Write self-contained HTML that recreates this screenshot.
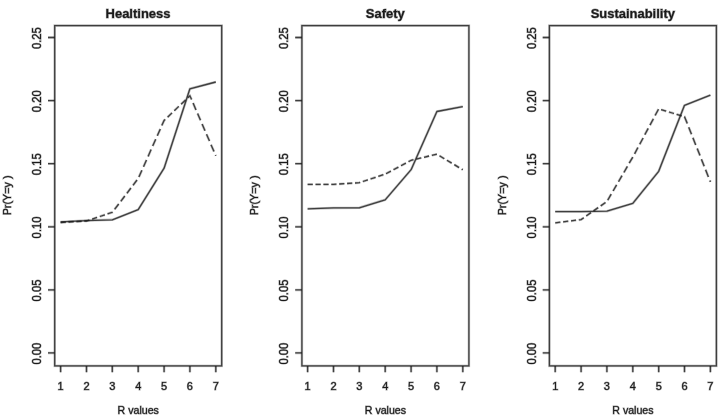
<!DOCTYPE html>
<html lang="en"><head><meta charset="utf-8"><title>Predicted probabilities</title>
<style>html,body{margin:0;padding:0;background:#fff}body{width:721px;height:417px;overflow:hidden}</style>
</head><body>
<svg width="721" height="417" viewBox="0 0 721 417" style="display:block">
<rect width="721" height="417" fill="#fff"/>
<g>
<g font-family="'Liberation Sans', Arial, sans-serif" fill="#1a1a1a" stroke="#1a1a1a" stroke-opacity="0.45" stroke-width="1.0">
<text transform="translate(138.0,18.3) scale(0.955,1)" font-size="13.6" font-weight="bold" text-anchor="middle">Healtiness</text>
<text transform="translate(138.2,414.1) scale(0.915,1)" font-size="11.6" text-anchor="middle">R values</text>
<text transform="translate(10.9,195.4) rotate(-90)" font-size="10.8" text-anchor="middle">Pr(Y=y )</text>
<text transform="translate(41.1,353.6) rotate(-90) scale(0.95,1)" font-size="11.9" text-anchor="middle">0.00</text>
<text transform="translate(41.1,290.5) rotate(-90) scale(0.95,1)" font-size="11.9" text-anchor="middle">0.05</text>
<text transform="translate(41.1,227.4) rotate(-90) scale(0.95,1)" font-size="11.9" text-anchor="middle">0.10</text>
<text transform="translate(41.1,164.3) rotate(-90) scale(0.95,1)" font-size="11.9" text-anchor="middle">0.15</text>
<text transform="translate(41.1,101.2) rotate(-90) scale(0.95,1)" font-size="11.9" text-anchor="middle">0.20</text>
<text transform="translate(41.1,38.1) rotate(-90) scale(0.95,1)" font-size="11.9" text-anchor="middle">0.25</text>
<text x="60.6" y="389.5" font-size="11" text-anchor="middle">1</text>
<text x="86.5" y="389.5" font-size="11" text-anchor="middle">2</text>
<text x="112.3" y="389.5" font-size="11" text-anchor="middle">3</text>
<text x="138.2" y="389.5" font-size="11" text-anchor="middle">4</text>
<text x="164.1" y="389.5" font-size="11" text-anchor="middle">5</text>
<text x="189.9" y="389.5" font-size="11" text-anchor="middle">6</text>
<text x="215.8" y="389.5" font-size="11" text-anchor="middle">7</text>
<text transform="translate(385.3,18.3) scale(0.955,1)" font-size="13.6" font-weight="bold" text-anchor="middle">Safety</text>
<text transform="translate(385.4,414.1) scale(0.915,1)" font-size="11.6" text-anchor="middle">R values</text>
<text transform="translate(258.1,195.4) rotate(-90)" font-size="10.8" text-anchor="middle">Pr(Y=y )</text>
<text transform="translate(288.3,353.6) rotate(-90) scale(0.95,1)" font-size="11.9" text-anchor="middle">0.00</text>
<text transform="translate(288.3,290.5) rotate(-90) scale(0.95,1)" font-size="11.9" text-anchor="middle">0.05</text>
<text transform="translate(288.3,227.4) rotate(-90) scale(0.95,1)" font-size="11.9" text-anchor="middle">0.10</text>
<text transform="translate(288.3,164.3) rotate(-90) scale(0.95,1)" font-size="11.9" text-anchor="middle">0.15</text>
<text transform="translate(288.3,101.2) rotate(-90) scale(0.95,1)" font-size="11.9" text-anchor="middle">0.20</text>
<text transform="translate(288.3,38.1) rotate(-90) scale(0.95,1)" font-size="11.9" text-anchor="middle">0.25</text>
<text x="307.6" y="389.5" font-size="11" text-anchor="middle">1</text>
<text x="333.5" y="389.5" font-size="11" text-anchor="middle">2</text>
<text x="359.3" y="389.5" font-size="11" text-anchor="middle">3</text>
<text x="385.2" y="389.5" font-size="11" text-anchor="middle">4</text>
<text x="411.1" y="389.5" font-size="11" text-anchor="middle">5</text>
<text x="436.9" y="389.5" font-size="11" text-anchor="middle">6</text>
<text x="462.8" y="389.5" font-size="11" text-anchor="middle">7</text>
<text transform="translate(632.8,18.3) scale(0.955,1)" font-size="13.6" font-weight="bold" text-anchor="middle">Sustainability</text>
<text transform="translate(632.9,414.1) scale(0.915,1)" font-size="11.6" text-anchor="middle">R values</text>
<text transform="translate(505.6,195.4) rotate(-90)" font-size="10.8" text-anchor="middle">Pr(Y=y )</text>
<text transform="translate(535.8,353.6) rotate(-90) scale(0.95,1)" font-size="11.9" text-anchor="middle">0.00</text>
<text transform="translate(535.8,290.5) rotate(-90) scale(0.95,1)" font-size="11.9" text-anchor="middle">0.05</text>
<text transform="translate(535.8,227.4) rotate(-90) scale(0.95,1)" font-size="11.9" text-anchor="middle">0.10</text>
<text transform="translate(535.8,164.3) rotate(-90) scale(0.95,1)" font-size="11.9" text-anchor="middle">0.15</text>
<text transform="translate(535.8,101.2) rotate(-90) scale(0.95,1)" font-size="11.9" text-anchor="middle">0.20</text>
<text transform="translate(535.8,38.1) rotate(-90) scale(0.95,1)" font-size="11.9" text-anchor="middle">0.25</text>
<text x="555.2" y="389.5" font-size="11" text-anchor="middle">1</text>
<text x="581.1" y="389.5" font-size="11" text-anchor="middle">2</text>
<text x="606.9" y="389.5" font-size="11" text-anchor="middle">3</text>
<text x="632.8" y="389.5" font-size="11" text-anchor="middle">4</text>
<text x="658.7" y="389.5" font-size="11" text-anchor="middle">5</text>
<text x="684.5" y="389.5" font-size="11" text-anchor="middle">6</text>
<text x="710.4" y="389.5" font-size="11" text-anchor="middle">7</text>
</g>
<g fill="none" stroke="#1a1a1a" stroke-opacity="0.28" stroke-width="2.5">
<rect x="54.7" y="25.6" width="167.0" height="340.3"/>
<path d="M48.0 352.9H54.7M48.0 289.9H54.7M48.0 226.8H54.7M48.0 163.7H54.7M48.0 100.6H54.7M48.0 37.5H54.7M60.6 365.9V372.2M86.5 365.9V372.2M112.3 365.9V372.2M138.2 365.9V372.2M164.1 365.9V372.2M189.9 365.9V372.2M215.8 365.9V372.2"/>
<polyline points="60.6,221.9 86.5,220.6 112.3,219.8 138.2,209.6 164.1,168.2 189.9,88.8 215.8,82.0" stroke-linejoin="round"/>
<path d="M60.6 222.5L65.8 222.2M68.5 222.0L73.7 221.7M76.4 221.6L81.6 221.3M84.3 221.1L86.5 221.0L89.4 220.0M92.1 219.1L97.1 217.4M99.8 216.5L104.9 214.8M107.5 213.9L112.3 212.3L112.6 212.0M114.6 209.3L118.7 204.0M120.8 201.3L124.8 196.0M126.9 193.3L130.9 188.0M133.0 185.3L137.0 180.0M138.9 177.0L141.9 170.2M143.5 166.7L146.5 159.9M148.1 156.4L151.1 149.6M152.7 146.1L155.7 139.3M157.3 135.8L160.3 129.0M161.8 125.5L164.1 120.5L165.2 119.4M167.6 117.2L172.0 112.9M174.3 110.7L178.8 106.4M181.1 104.2L185.6 100.0M187.9 97.8L189.9 95.8L191.6 99.5M193.1 103.1L196.0 109.9M197.6 113.5L200.5 120.3M202.1 123.9L205.0 130.7M206.5 134.3L209.5 141.1M211.0 144.7L214.0 151.5M215.5 155.1L215.8 155.8"/>
<rect x="301.9" y="25.6" width="167.0" height="340.3"/>
<path d="M295.2 352.9H301.9M295.2 289.9H301.9M295.2 226.8H301.9M295.2 163.7H301.9M295.2 100.6H301.9M295.2 37.5H301.9M307.6 365.9V372.2M333.5 365.9V372.2M359.3 365.9V372.2M385.2 365.9V372.2M411.1 365.9V372.2M436.9 365.9V372.2M462.8 365.9V372.2"/>
<polyline points="307.6,208.8 333.5,207.9 359.3,207.8 385.2,199.8 411.1,169.7 436.9,111.5 462.8,106.6" stroke-linejoin="round"/>
<path d="M307.6 184.4L312.8 184.4M315.5 184.4L320.7 184.4M323.4 184.4L328.6 184.4M331.3 184.4L333.5 184.4L336.5 184.2M339.2 184.0L344.4 183.7M347.1 183.5L352.3 183.2M355.0 183.0L359.3 182.7L360.2 182.4M362.8 181.5L367.9 179.9M370.5 179.0L375.6 177.3M378.3 176.4L383.4 174.7M386.0 173.7L390.9 171.1M393.5 169.7L398.4 167.1M401.0 165.7L405.9 163.1M408.5 161.7L411.1 160.3L413.5 159.7M416.2 159.1L421.3 157.9M424.0 157.3L429.1 156.0M431.8 155.4L436.9 154.2M439.5 155.7L444.3 158.7M446.9 160.2L451.7 163.1M454.3 164.6L459.1 167.6M461.7 169.1L462.8 169.8"/>
<rect x="549.4" y="25.6" width="167.0" height="340.3"/>
<path d="M542.7 352.9H549.4M542.7 289.9H549.4M542.7 226.8H549.4M542.7 163.7H549.4M542.7 100.6H549.4M542.7 37.5H549.4M555.2 365.9V372.2M581.1 365.9V372.2M606.9 365.9V372.2M632.8 365.9V372.2M658.7 365.9V372.2M684.5 365.9V372.2M710.4 365.9V372.2"/>
<polyline points="555.2,211.6 581.1,211.6 606.9,211.2 632.8,203.4 658.7,171.3 684.5,105.3 710.4,95.2" stroke-linejoin="round"/>
<path d="M555.2 222.9L560.4 222.2M563.1 221.9L568.3 221.2M571.0 220.9L576.1 220.2M578.8 219.9L581.1 219.6L583.8 217.7M586.2 216.0L591.0 212.6M593.5 210.9L598.2 207.6M600.7 205.9L605.5 202.5M607.7 200.2L611.2 194.1M613.1 191.0L616.6 184.9M618.5 181.7L622.0 175.6M623.9 172.5L627.4 166.4M629.2 163.2L632.8 157.1M634.6 153.9L637.9 147.5M639.7 144.3L643.1 138.0M644.8 134.7L648.2 128.4M650.0 125.1L653.4 118.8M655.1 115.5L658.5 109.2M661.1 109.6L666.2 111.2M668.9 112.0L674.0 113.5M676.6 114.3L681.7 115.9M684.4 116.7L684.5 116.7L687.3 123.5M688.7 127.2L691.5 134.2M692.9 137.8L695.7 144.9M697.2 148.5L700.0 155.5M701.4 159.2L704.2 166.2M705.6 169.8L708.4 176.9M709.9 180.5L710.4 181.9"/>
</g>
<g fill="none" stroke="#1a1a1a" stroke-opacity="0.78" stroke-width="1.3">
<rect x="54.7" y="25.6" width="167.0" height="340.3"/>
<path d="M48.0 352.9H54.7M48.0 289.9H54.7M48.0 226.8H54.7M48.0 163.7H54.7M48.0 100.6H54.7M48.0 37.5H54.7M60.6 365.9V372.2M86.5 365.9V372.2M112.3 365.9V372.2M138.2 365.9V372.2M164.1 365.9V372.2M189.9 365.9V372.2M215.8 365.9V372.2"/>
<polyline points="60.6,221.9 86.5,220.6 112.3,219.8 138.2,209.6 164.1,168.2 189.9,88.8 215.8,82.0" stroke-linejoin="round"/>
<path d="M60.6 222.5L65.8 222.2M68.5 222.0L73.7 221.7M76.4 221.6L81.6 221.3M84.3 221.1L86.5 221.0L89.4 220.0M92.1 219.1L97.1 217.4M99.8 216.5L104.9 214.8M107.5 213.9L112.3 212.3L112.6 212.0M114.6 209.3L118.7 204.0M120.8 201.3L124.8 196.0M126.9 193.3L130.9 188.0M133.0 185.3L137.0 180.0M138.9 177.0L141.9 170.2M143.5 166.7L146.5 159.9M148.1 156.4L151.1 149.6M152.7 146.1L155.7 139.3M157.3 135.8L160.3 129.0M161.8 125.5L164.1 120.5L165.2 119.4M167.6 117.2L172.0 112.9M174.3 110.7L178.8 106.4M181.1 104.2L185.6 100.0M187.9 97.8L189.9 95.8L191.6 99.5M193.1 103.1L196.0 109.9M197.6 113.5L200.5 120.3M202.1 123.9L205.0 130.7M206.5 134.3L209.5 141.1M211.0 144.7L214.0 151.5M215.5 155.1L215.8 155.8"/>
<rect x="301.9" y="25.6" width="167.0" height="340.3"/>
<path d="M295.2 352.9H301.9M295.2 289.9H301.9M295.2 226.8H301.9M295.2 163.7H301.9M295.2 100.6H301.9M295.2 37.5H301.9M307.6 365.9V372.2M333.5 365.9V372.2M359.3 365.9V372.2M385.2 365.9V372.2M411.1 365.9V372.2M436.9 365.9V372.2M462.8 365.9V372.2"/>
<polyline points="307.6,208.8 333.5,207.9 359.3,207.8 385.2,199.8 411.1,169.7 436.9,111.5 462.8,106.6" stroke-linejoin="round"/>
<path d="M307.6 184.4L312.8 184.4M315.5 184.4L320.7 184.4M323.4 184.4L328.6 184.4M331.3 184.4L333.5 184.4L336.5 184.2M339.2 184.0L344.4 183.7M347.1 183.5L352.3 183.2M355.0 183.0L359.3 182.7L360.2 182.4M362.8 181.5L367.9 179.9M370.5 179.0L375.6 177.3M378.3 176.4L383.4 174.7M386.0 173.7L390.9 171.1M393.5 169.7L398.4 167.1M401.0 165.7L405.9 163.1M408.5 161.7L411.1 160.3L413.5 159.7M416.2 159.1L421.3 157.9M424.0 157.3L429.1 156.0M431.8 155.4L436.9 154.2M439.5 155.7L444.3 158.7M446.9 160.2L451.7 163.1M454.3 164.6L459.1 167.6M461.7 169.1L462.8 169.8"/>
<rect x="549.4" y="25.6" width="167.0" height="340.3"/>
<path d="M542.7 352.9H549.4M542.7 289.9H549.4M542.7 226.8H549.4M542.7 163.7H549.4M542.7 100.6H549.4M542.7 37.5H549.4M555.2 365.9V372.2M581.1 365.9V372.2M606.9 365.9V372.2M632.8 365.9V372.2M658.7 365.9V372.2M684.5 365.9V372.2M710.4 365.9V372.2"/>
<polyline points="555.2,211.6 581.1,211.6 606.9,211.2 632.8,203.4 658.7,171.3 684.5,105.3 710.4,95.2" stroke-linejoin="round"/>
<path d="M555.2 222.9L560.4 222.2M563.1 221.9L568.3 221.2M571.0 220.9L576.1 220.2M578.8 219.9L581.1 219.6L583.8 217.7M586.2 216.0L591.0 212.6M593.5 210.9L598.2 207.6M600.7 205.9L605.5 202.5M607.7 200.2L611.2 194.1M613.1 191.0L616.6 184.9M618.5 181.7L622.0 175.6M623.9 172.5L627.4 166.4M629.2 163.2L632.8 157.1M634.6 153.9L637.9 147.5M639.7 144.3L643.1 138.0M644.8 134.7L648.2 128.4M650.0 125.1L653.4 118.8M655.1 115.5L658.5 109.2M661.1 109.6L666.2 111.2M668.9 112.0L674.0 113.5M676.6 114.3L681.7 115.9M684.4 116.7L684.5 116.7L687.3 123.5M688.7 127.2L691.5 134.2M692.9 137.8L695.7 144.9M697.2 148.5L700.0 155.5M701.4 159.2L704.2 166.2M705.6 169.8L708.4 176.9M709.9 180.5L710.4 181.9"/>
</g>
</g>
</svg>
</body></html>
